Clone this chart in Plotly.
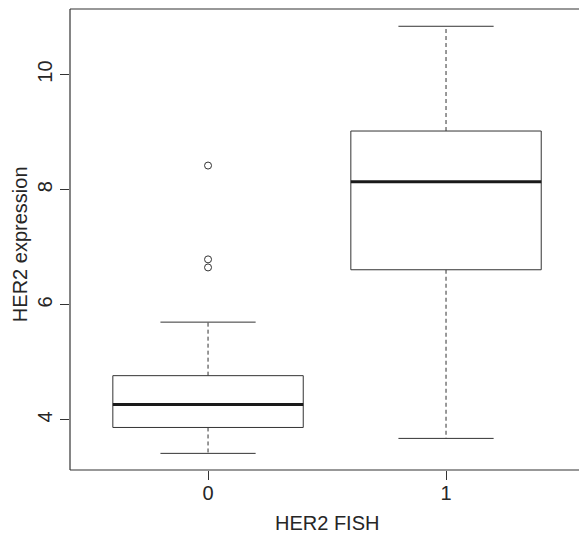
import plotly.graph_objects as go

# ---- data ----
groups = ["0", "1"]
group_pos = [0, 1]
lower_whisker = [3.42, 3.68]
q1 = [3.87, 6.61]
median = [4.27, 8.14]
q3 = [4.77, 9.02]
upper_whisker = [5.70, 10.84]
outliers_0 = [8.42, 6.79, 6.65]
y_ticks = [4, 6, 8, 10]

BOX_HALF = 0.4
CAP_HALF = 0.2
LINE = "#333333"
MED = "#1a1a1a"
TXT = "#262626"
FONT = "Liberation Sans, Arial, Helvetica, sans-serif"

fig = go.Figure()

for i, p in enumerate(group_pos):
    # whiskers (dashed)
    fig.add_trace(go.Scatter(x=[p, p], y=[q3[i], upper_whisker[i]], mode="lines",
                             line=dict(color=LINE, width=1, dash="4px,3px"),
                             hoverinfo="skip", showlegend=False))
    fig.add_trace(go.Scatter(x=[p, p], y=[q1[i], lower_whisker[i]], mode="lines",
                             line=dict(color=LINE, width=1, dash="4px,3px"),
                             hoverinfo="skip", showlegend=False))
    # caps
    for w in (upper_whisker[i], lower_whisker[i]):
        fig.add_trace(go.Scatter(x=[p - CAP_HALF, p + CAP_HALF], y=[w, w], mode="lines",
                                 line=dict(color=LINE, width=1),
                                 hoverinfo="skip", showlegend=False))
    # box
    fig.add_trace(go.Scatter(
        x=[p - BOX_HALF, p + BOX_HALF, p + BOX_HALF, p - BOX_HALF, p - BOX_HALF],
        y=[q1[i], q1[i], q3[i], q3[i], q1[i]], mode="lines",
        line=dict(color=LINE, width=1), fill="toself", fillcolor="white",
        hoverinfo="skip", showlegend=False))
    # median
    fig.add_trace(go.Scatter(x=[p - BOX_HALF, p + BOX_HALF], y=[median[i], median[i]],
                             mode="lines", line=dict(color=MED, width=3),
                             hoverinfo="skip", showlegend=False))

# outliers for group 0
fig.add_trace(go.Scatter(x=[group_pos[0]] * len(outliers_0), y=outliers_0, mode="markers",
                         marker=dict(symbol="circle-open", size=7, color=LINE,
                                     line=dict(width=1, color=LINE)),
                         hoverinfo="skip", showlegend=False))

# frame (left, top, bottom; right edge falls outside the image)
for x0, y0, x1, y1 in [(0, 0, 0, 1), (0, 1, 1, 1), (0, 0, 1, 0)]:
    fig.add_shape(type="line", xref="paper", yref="paper", x0=x0, y0=y0, x1=x1, y1=y1,
                  line=dict(color=LINE, width=1.2))

fig.add_annotation(text="HER2 FISH", xref="paper", yref="paper", x=0.5053, y=-0.1150,
                   xanchor="center", yanchor="middle", showarrow=False,
                   font=dict(family=FONT, size=20, color=TXT))
fig.add_annotation(text="HER2 expression", xref="paper", yref="paper", x=-0.0982, y=0.49,
                   xanchor="center", yanchor="middle", textangle=-90, showarrow=False,
                   font=dict(family=FONT, size=20, color=TXT))

fig.update_layout(
    width=579, height=534,
    margin=dict(l=70, r=0, t=9, b=64),
    paper_bgcolor="white", plot_bgcolor="white",
    font=dict(family=FONT, size=20, color=TXT),
    xaxis=dict(range=[-0.58, 1.5587], tickvals=group_pos, ticktext=groups,
               showgrid=False, zeroline=False, showline=False,
               ticks="outside", ticklen=9, tickcolor=LINE, tickwidth=1,
               ticklabelstandoff=-4,
               tickfont=dict(size=20, color=TXT)),
    yaxis=dict(range=[3.131, 11.14], tickvals=y_ticks, ticktext=[str(v) for v in y_ticks],
               showgrid=False, zeroline=False, showline=False,
               ticks="outside", ticklen=9, tickcolor=LINE, tickwidth=1, tickangle=-90,
               ticklabelstandoff=0,
               tickfont=dict(size=20, color=TXT)),
)

fig.write_html("out.html", config={"displayModeBar": False},
               post_script="document.body.style.margin='0';document.body.style.padding='0';")
